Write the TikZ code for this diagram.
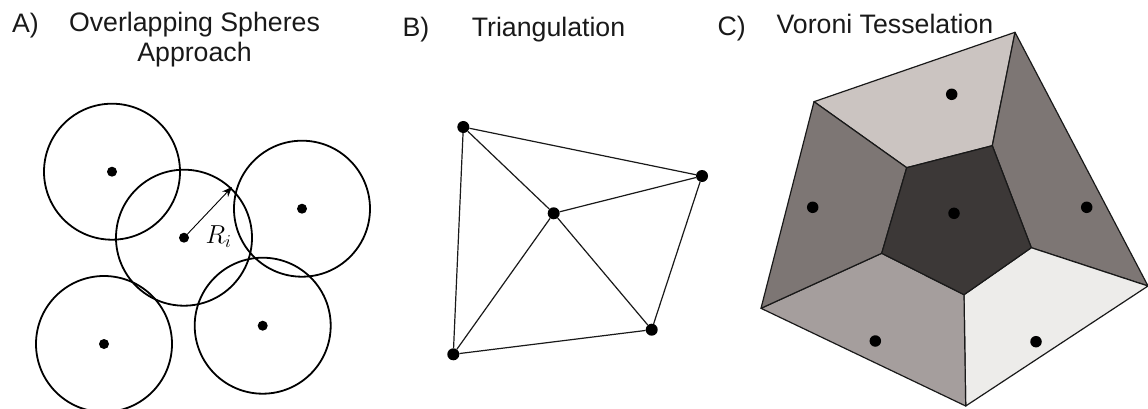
\documentclass[tikz,border=0pt]{standalone}
\usepackage{fix-cm}
\usepackage{fontspec}
\setmainfont{Liberation Sans}
\usetikzlibrary{arrows.meta}
\definecolor{celltop}{HTML}{CBC4C1}
\definecolor{cellside}{HTML}{7D7674}
\definecolor{cellmid}{HTML}{3C3837}
\definecolor{cellleft}{HTML}{A59E9D}
\definecolor{cellright}{HTML}{EDECEA}
\tikzset{
    title/.style={font=\fontsize{26.7}{30}\selectfont, align=center, text=black!90, anchor=base},
    sphere/.style={circle, draw, line width=1.8pt, minimum size=136pt, inner sep=0pt},
    site/.style={circle, fill=black, minimum size=#1, inner sep=0pt},
    site/.default=10pt,
    cell/.style={draw=black!90, line width=1.2pt, line join=round},
    edge/.style={line width=1.2pt, black!90},
}
\begin{document}
\begin{tikzpicture}[x=1pt, y=-1pt, >={Stealth[length=10pt,width=8pt]}]
    \useasboundingbox (0,0) rectangle (1148,409);
    \clip (0,0) rectangle (1148,409);

    % overlapping spheres
    \begin{scope}
        \node[title] (labelA) at (25.5,33) {A)};
        \node[title] (titleA) at (194.5,32) {Overlapping Spheres};
        \node[title] (titleAb) at (194.5,62) {Approach};

        \foreach \name/\x/\y in {one/112/171.7, two/184/237.7, three/302/208.7, four/104/344, five/262.7/325.7} {
            \node[sphere] (s\name) at (\x,\y) {};
            \node[site] (c\name) at (\x,\y) {};
        }
        \coordinate (rim) at (232,187);
        \draw[->, line width=0.9pt] (ctwo) -- (rim);
        \node[font=\fontsize{26}{28}\selectfont] (radius) at (218.5,237) {$R_i$};
    \end{scope}

    % triangulation
    \begin{scope}
        \node[title] (labelB) at (416,37) {B)};
        \node[title] (titleB) at (548.5,37) {Triangulation};

        \node[site=12pt] (ta) at (463.3,127) {};
        \node[site=12pt] (tb) at (702,176) {};
        \node[site=12pt] (tc) at (553.7,213.3) {};
        \node[site=12pt] (td) at (651.7,329.7) {};
        \node[site=12pt] (te) at (453.3,354.3) {};

        \draw[edge] (ta) -- (tb) -- (td) -- (te) -- (ta);
        \foreach \other in {ta,tb,td,te}
            \draw[edge] (tc) -- (\other);
    \end{scope}

    % voronoi cells
    \begin{scope}
        \node[title] (labelC) at (731.7,36) {C)};
        \node[title] (titleC) at (885,34) {Voroni Tesselation};

        \coordinate (A) at (814,101.7);
        \coordinate (B) at (1015,32.3);
        \coordinate (C) at (1148,286);
        \coordinate (D) at (965.7,406);
        \coordinate (E) at (761,308.3);
        \coordinate (a) at (906.7,167.7);
        \coordinate (b) at (992.3,145.7);
        \coordinate (c) at (1031.3,247.7);
        \coordinate (d) at (964,294.7);
        \coordinate (e) at (881.7,253.3);

        \draw[cell, fill=celltop] (A) -- (B) -- (b) -- (a) -- cycle;
        \draw[cell, fill=cellside] (B) -- (C) -- (c) -- (b) -- cycle;
        \draw[cell, fill=cellright] (C) -- (D) -- (d) -- (c) -- cycle;
        \draw[cell, fill=cellleft] (D) -- (E) -- (e) -- (d) -- cycle;
        \draw[cell, fill=cellside] (E) -- (A) -- (a) -- (e) -- cycle;
        \draw[cell, fill=cellmid] (a) -- (b) -- (c) -- (d) -- (e) -- cycle;

        \foreach \name/\x/\y in {top/951.7/94.3, right/1086.7/207.3, mid/954/213.3, left/812.7/207.3, low/875.3/341, rear/1036/341.7}
            \node[site=11.5pt] (v\name) at (\x,\y) {};
    \end{scope}
\end{tikzpicture}
\end{document}
